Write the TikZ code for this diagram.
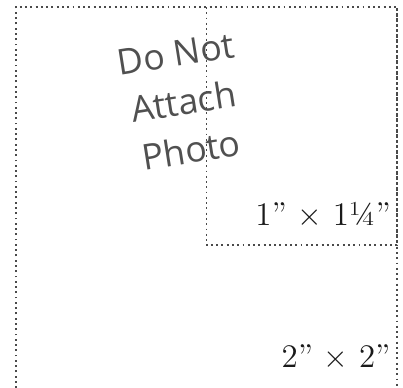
\documentclass[tikz,border=0pt]{standalone}
\usepackage{fontspec}
\usepackage{tikz}
\usetikzlibrary{positioning}
\newfontfamily\notefont{Open Sans}
\definecolor{dotgray}{HTML}{4A4A4A}
\definecolor{notegray}{HTML}{505050}
\definecolor{labelblack}{HTML}{1A1A1A}
\tikzstyle{cutline} = [dotgray, line width=0.7pt, dash pattern=on 0.7pt off 1.3pt]
\tikzstyle{sizelabel} = [anchor=base east, inner sep=0pt, text=labelblack, font=\fontsize{12.5}{14}\selectfont]

\begin{document}
\begin{tikzpicture}[x=1in, y=1in]
\useasboundingbox (-0.084,0.005) rectangle (2.031,2.037);

% 2 x 2 outline (bottom edge falls off the page)
\draw[cutline] (0,0) -- (0,2) -- (2,2) -- (2,0);
% 1 x 1.25 outline
\draw[cutline] (1,2) -- (1,0.75) -- (2,0.75) -- (2,2);

\node[
rotate=9,
align=center,
text=notegray,
inner sep=0pt,
font=\notefont\fontsize{13.5}{18.5}\selectfont
] (photonote) at (0.88,1.5) {Do Not\\Attach\\Photo};

\node[sizelabel] (smalllabel) at (1.97,0.856) {1” $\times$ 1¼”};
\node[sizelabel] (biglabel) at (1.968,0.11) {2” $\times$ 2”};
\end{tikzpicture}
\end{document}
